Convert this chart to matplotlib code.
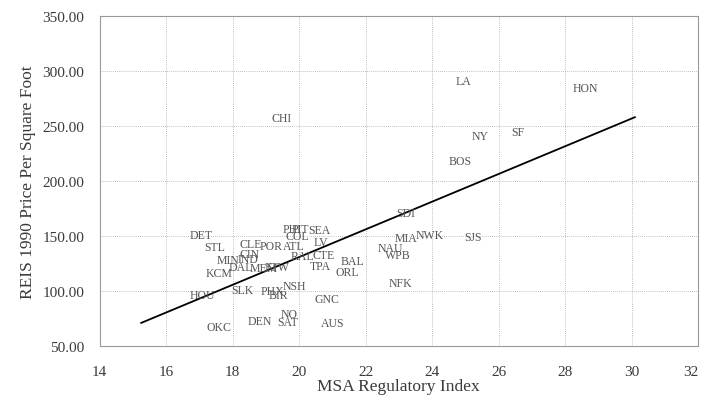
import matplotlib
matplotlib.use("Agg")
import matplotlib.pyplot as plt

# MSA codes, regulatory index (x) and REIS 1990 price per sq ft (y)
msa = ["LA", "HON", "CHI", "NY", "SF", "BOS", "SDI", "MIA", "NWK", "SJS",
       "NAU", "WPB", "NFK", "BAL", "ORL", "GNC", "AUS", "NO", "SAT", "DEN",
       "OKC", "HOU", "SLK", "PHX", "BIR", "NSH", "KCM", "DAL", "MIN", "IND",
       "MEM", "FTW", "DET", "STL", "CLE", "CIN", "POR", "ATL", "PHI", "PIT",
       "SEA", "COL", "LV", "RAL", "CTE", "TPA"]
reg_index = [24.94, 28.62, 19.46, 25.44, 26.59, 24.84, 23.22, 23.21, 23.94, 25.24,
             22.74, 22.96, 23.04, 21.60, 21.46, 20.85, 21.00, 19.70, 19.65, 18.83,
             17.60, 17.10, 18.28, 19.20, 19.38, 19.85, 17.58, 18.25, 17.85, 18.45,
             18.95, 19.35, 17.06, 17.46, 18.55, 18.50, 19.15, 19.85, 19.80, 20.05,
             20.60, 19.95, 20.65, 20.10, 20.75, 20.65]
price = [290.9, 284.5, 257.3, 240.6, 244.3, 218.5, 170.9, 148.2, 150.9, 149.1,
         139.1, 132.7, 107.0, 127.5, 117.0, 92.7, 70.9, 79.1, 72.1, 73.0,
         67.0, 96.4, 100.9, 100.3, 96.4, 104.8, 116.0, 121.5, 128.5, 129.0,
         121.0, 121.5, 150.9, 139.7, 142.7, 133.6, 140.6, 141.2, 156.4, 156.0,
         155.7, 150.3, 144.5, 132.0, 132.5, 123.0]

# fitted line end points
fit_x = [15.25, 30.1]
fit_y = [71.0, 258.0]

xticks = [14, 16, 18, 20, 22, 24, 26, 28, 30, 32]
yticks = [50, 100, 150, 200, 250, 300, 350]

plt.rcParams["font.family"] = ["Liberation Serif", "DejaVu Serif"]
txt = "#3a3a3a"

fig = plt.figure(figsize=(7.04, 4.10), dpi=100)
ax = fig.add_axes([0.1416, 0.1537, 0.8499, 0.8048])

for x, y, s in zip(reg_index, price, msa):
    ax.text(x, y, s, ha="center", va="center", fontsize=8.5, color="#555555")

ax.plot(fit_x, fit_y, color="black", lw=1.3)

ax.set_xlim(14, 32)
ax.set_ylim(50, 350)
ax.set_xticks(xticks)
ax.set_yticks(yticks)
ax.set_yticklabels([f"{v:.2f}" for v in yticks])
ax.grid(True, color="#aaaaaa", ls=(0, (1, 1.5)), lw=0.6)
ax.tick_params(length=0, labelsize=11, colors=txt, pad=11)
ax.tick_params(axis="x", pad=14)
# last x label sits against the right edge of the figure
ax.get_xticklabels()[-1].set_horizontalalignment("right")
for sp in ax.spines.values():
    sp.set_color("#999999")
    sp.set_linewidth(0.8)

ax.set_xlabel("MSA Regulatory Index", fontsize=12.5, color=txt, labelpad=0)
ax.set_ylabel("REIS 1990 Price Per Square Foot", fontsize=12.5, color=txt, labelpad=5)

fig.savefig("out.png", dpi=100)
